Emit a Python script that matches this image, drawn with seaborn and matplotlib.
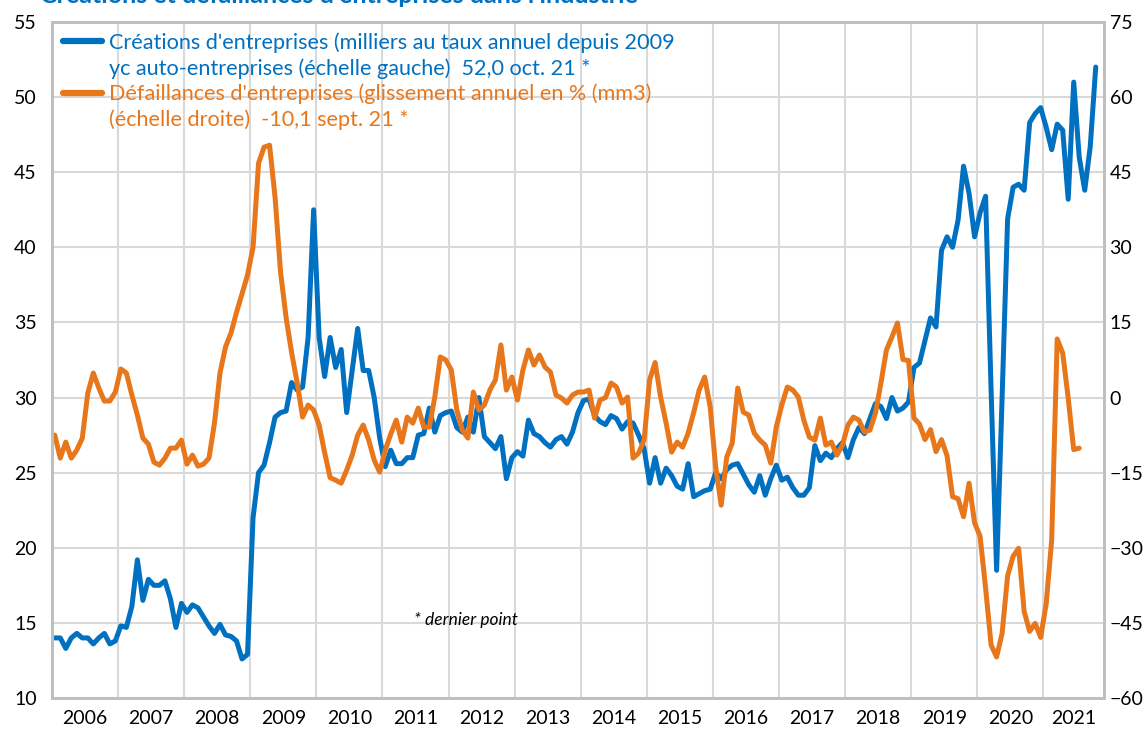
import matplotlib
matplotlib.use("Agg")
import matplotlib.pyplot as plt
import seaborn as sns
import pandas as pd
import numpy as np
from matplotlib.lines import Line2D

# Créations d'entreprises (milliers, échelle gauche), mensuel janv. 2006 -> oct. 2021
creations = [
    14.0, 14.0, 13.3, 14.0, 14.3, 14.0, 14.0, 13.6, 14.0, 14.3, 13.6, 13.8,  # 2006
    14.8, 14.7, 16.1, 19.2, 16.5, 17.9, 17.5, 17.5, 17.8, 16.6, 14.7, 16.3,  # 2007
    15.7, 16.2, 16.0, 15.4, 14.8, 14.3, 14.9, 14.2, 14.1, 13.8, 12.6, 12.9,  # 2008
    22.0, 25.0, 25.5, 27.0, 28.7, 29.0, 29.1, 31.0, 30.5, 30.7, 34.0, 42.5,  # 2009
    34.0, 31.4, 34.0, 32.0, 33.2, 29.0, 31.8, 34.6, 31.8, 31.8, 30.0, 27.3,  # 2010
    25.4, 26.5, 25.6, 25.6, 26.0, 26.0, 27.5, 27.6, 29.3, 27.7, 28.8, 29.0,  # 2011
    29.1, 28.0, 27.7, 28.7, 27.7, 30.0, 27.4, 27.0, 26.6, 27.4, 24.6, 26.0,  # 2012
    26.4, 26.1, 28.5, 27.6, 27.4, 27.0, 26.7, 27.2, 27.4, 26.9, 27.7, 29.0,  # 2013
    29.8, 29.9, 28.8, 28.4, 28.2, 28.8, 28.6, 27.9, 28.4, 28.3, 27.5, 26.6,  # 2014
    24.3, 26.0, 24.3, 25.3, 24.8, 24.1, 23.9, 25.6, 23.4, 23.6, 23.8, 23.9,  # 2015
    25.0, 24.6, 25.2, 25.5, 25.6, 24.9, 24.2, 23.7, 24.8, 23.5, 24.6, 25.5,  # 2016
    24.5, 24.7, 24.0, 23.5, 23.5, 24.0, 26.8, 25.8, 26.3, 26.0, 26.6, 27.0,  # 2017
    26.0, 27.2, 28.0, 27.6, 28.6, 29.6, 29.4, 28.6, 30.0, 29.1, 29.3, 29.7,  # 2018
    32.0, 32.3, 33.8, 35.3, 34.7, 39.8, 40.7, 40.0, 41.8, 45.4, 43.6, 40.7,  # 2019
    42.3, 43.4, 30.5, 18.5, 30.0, 41.9, 44.0, 44.2, 43.8, 48.3, 48.9, 49.3,  # 2020
    48.0, 46.5, 48.2, 47.8, 43.2, 51.0, 46.0, 43.8, 46.7, 52.0,              # 2021
]

# Défaillances d'entreprises (glissement annuel en %, mm3, échelle droite)
defaillances = [
    -7.5, -12.1, -8.9, -12.1, -10.5, -8.1, 0.9, 4.9, 1.9, -0.7, -0.7, 1.1,      # 2006
    5.7, 4.9, 0.5, -3.5, -8.1, -9.3, -12.9, -13.5, -12.1, -10.1, -10.1, -8.5,   # 2007
    -13.3, -11.5, -13.7, -13.3, -12.1, -5.1, 4.9, 10.1, 12.9, 17.0, 20.7, 24.5,  # 2008
    30.0, 46.8, 50.0, 50.4, 40.0, 25.0, 16.0, 9.0, 3.0, -3.9, -1.5, -2.5,       # 2009
    -5.5, -11.0, -16.0, -16.5, -17.1, -14.5, -11.5, -7.5, -5.5, -8.5, -12.5, -14.9,  # 2010
    -10.5, -7.3, -4.5, -8.9, -3.9, -5.1, -2.1, -5.9, -5.9, 0.1, 8.1, 7.5,       # 2011
    5.5, -2.5, -6.5, -8.1, 1.1, -2.5, -1.5, 1.5, 3.5, 10.5, 1.5, 4.1,           # 2012
    -0.5, 5.5, 9.5, 6.5, 8.5, 6.1, 5.1, 0.5, -0.1, -1.1, 0.5, 1.1,              # 2013
    1.1, 1.5, -4.1, -0.5, 0.0, 2.9, 2.1, -1.1, 0.1, -12.1, -11.1, -8.5,         # 2014
    3.5, 7.0, 0.1, -5.1, -10.9, -8.9, -9.9, -7.1, -3.0, 1.5, 4.1, -1.9,         # 2015
    -13.9, -21.5, -11.9, -9.1, 1.9, -2.9, -3.5, -7.1, -8.5, -9.5, -13.1, -5.9,  # 2016
    -1.5, 2.1, 1.5, 0.1, -4.5, -7.9, -8.5, -4.1, -9.5, -8.9, -11.5, -9.5,       # 2017
    -5.5, -3.9, -4.5, -6.9, -6.5, -3.1, 2.9, 9.5, 12.1, 14.9, 7.6, 7.4,         # 2018
    -4.1, -5.3, -8.4, -6.4, -10.8, -8.4, -11.6, -19.8, -20.2, -23.8, -17.1, -25.0,  # 2019
    -27.7, -38.0, -49.4, -51.8, -47.1, -35.6, -31.7, -30.1, -42.7, -46.7, -45.1, -47.9,  # 2020
    -41.2, -28.5, 11.7, 8.9, -0.1, -10.4, -10.1,                                # 2021
]

annees = [str(a) for a in range(2006, 2022)]
ticks_gauche = list(range(10, 56, 5))
ticks_droite = list(range(-60, 76, 15))

titre = "Créations et défaillances d'entreprises dans l'industrie"
leg_creations = ["Créations d'entreprises (milliers au taux annuel depuis 2009",
                 "yc auto-entreprises (échelle gauche)  52,0 oct. 21 *"]
leg_defaillances = ["Défaillances d'entreprises (glissement annuel en % (mm3)",
                    "(échelle droite)  -10,1 sept. 21 *"]

BLEU = "#0070C0"
ORANGE = "#E8761A"
GRILLE = "#D9D9D9"
CADRE = "#BFBFBF"

df_c = pd.DataFrame({"mois": np.arange(len(creations)) + 0.5, "valeur": creations})
df_d = pd.DataFrame({"mois": np.arange(len(defaillances)) + 0.5, "valeur": defaillances})

sns.set_theme(style="white")
plt.rcParams["font.family"] = ["Lato", "DejaVu Sans"]

fig = plt.figure(figsize=(11.44, 7.34), dpi=100)
ax = fig.add_axes([52 / 1144, 1 - 698 / 734, 1052 / 1144, 676 / 734])
ax2 = ax.twinx()

sns.lineplot(data=df_c, x="mois", y="valeur", ax=ax, color=BLEU, linewidth=3.6)
sns.lineplot(data=df_d, x="mois", y="valeur", ax=ax2, color=ORANGE, linewidth=3.6)

ax.set_xlim(0, 191)
ax.set_ylim(10, 55)
ax2.set_ylim(-60, 75)
ax.set_yticks(ticks_gauche)
ax2.set_yticks(ticks_droite)

ax.set_xticks(range(12, 181, 12))
ax.set_xticklabels([])
centres = [12 * k + 6 for k in range(15)] + [185.5]
ax.set_xticks(centres, minor=True)
ax.set_xticklabels(annees, minor=True)
ax.tick_params(axis="x", which="major", length=6, width=1.5, color=CADRE, direction="out")
ax.tick_params(axis="x", which="minor", length=0, pad=9, labelsize=14, labelcolor="#000000")
ax.tick_params(axis="y", length=0, pad=11, labelsize=14, labelcolor="#000000")
ax2.tick_params(axis="y", length=0, pad=4, labelsize=14, labelcolor="#000000")

ax.grid(True, axis="both", which="major", color=GRILLE, linewidth=1.5)
ax.set_axisbelow(True)
for a in (ax, ax2):
    for s in a.spines.values():
        s.set_color(CADRE)
        s.set_linewidth(2)
    a.set_xlabel("")
    a.set_ylabel("")

# légende : trait + première ligne, puis deuxième ligne sans trait
h_c = Line2D([], [], color=BLEU, linewidth=4.5)
h_d = Line2D([], [], color=ORANGE, linewidth=4.5)
vide = Line2D([], [], color="none")
leg = ax.legend([h_c, vide, h_d, vide],
                leg_creations + leg_defaillances,
                loc="upper left", bbox_to_anchor=(0.0105, 0.985),
                frameon=False, fontsize=15.6, handlelength=1.8,
                handletextpad=0.3, labelspacing=0.24, borderpad=0, borderaxespad=0,
                labelcolor=[BLEU, BLEU, ORANGE, ORANGE])

ax.text((466 - 52) / 1052, (698 - 620) / 676, "* dernier point", transform=ax.transAxes,
        fontsize=12.5, style="italic", ha="center", va="center", color="#000000")

fig.text(40 / 1144, 1 - 3 / 734, titre, fontsize=18, fontweight="bold",
         color=BLEU, ha="left", va="baseline")

fig.savefig("out.png", dpi=100)
